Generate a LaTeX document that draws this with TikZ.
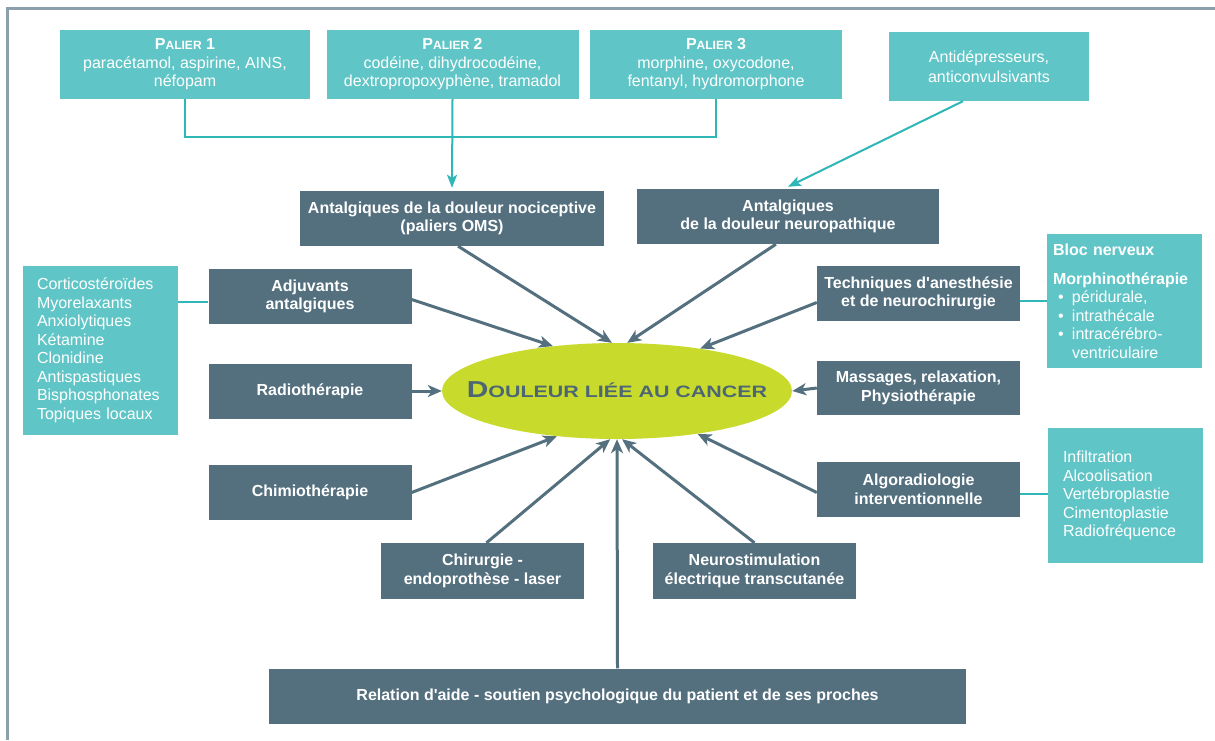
\documentclass[tikz,border=0pt]{standalone}
\usepackage{fontspec}
\setmainfont{Liberation Sans}[Ligatures=TeXOff]
\usetikzlibrary{shapes.geometric,arrows.meta,calc}
\definecolor{tealfill}{HTML}{60C5C6}
\definecolor{tealline}{HTML}{2FB6B6}
\definecolor{slate}{HTML}{54707F}
\definecolor{ellitext}{HTML}{4C6674}
\definecolor{limec}{HTML}{C8DB2C}
\definecolor{framec}{HTML}{8CA0AB}
\newcommand{\myfs}{\fontsize{16}{18.5}\selectfont}
\newcommand{\pal}[1]{\textbf{P{\fontsize{12}{18.5}\selectfont ALIER} #1}}
\begin{document}
\begin{tikzpicture}[x=1pt,y=-1pt,
  tbox/.style={fill=tealfill, text=white, inner sep=0pt, font=\myfs, align=center},
  dbox/.style={fill=slate, text=white, inner sep=0pt, font=\myfs\bfseries, align=center,
               minimum width=203pt, minimum height=55pt},
  darrow/.style={draw=slate, line width=3pt, -{Stealth[length=14pt,width=12pt,inset=4pt]}},
  tline/.style={draw=tealline, line width=2pt},
  tarrow/.style={tline, -{Stealth[length=13pt,width=10pt,inset=3pt]}}]
\useasboundingbox (0,0) rectangle (1215,740);
\fill[white] (0,0) rectangle (1215,740);
\draw[framec, line width=3pt] (7,740) -- (7,8.5) -- (1215,8.5);

% top teal boxes
\node[tbox, minimum width=250pt, minimum height=69pt] (p1) at (185,64.5)
  {\pal{1}\\paracétamol, aspirine, AINS,\\néfopam};
\node[tbox, minimum width=252pt, minimum height=69pt] (p2) at (452.5,64.5)
  {\pal{2}\\codéine, dihydrocodéine,\\dextropropoxyphène, tramadol};
\node[tbox, minimum width=252pt, minimum height=69pt] (p3) at (716,64.5)
  {\pal{3}\\morphine, oxycodone,\\fentanyl, hydromorphone};
\node[tbox, minimum width=200pt, minimum height=69pt] (anti) at (989,66.5)
  {\raisebox{1pt}{Antidépresseurs,}\\anticonvulsivants};

% dark boxes
\node[dbox, minimum width=304pt] (noci) at (452,218.5)
  {Antalgiques de la douleur nociceptive\\(paliers OMS)};
\node[dbox, minimum width=302pt] (neuro) at (788,216.5)
  {Antalgiques\\de la douleur neuropathique};
\node[dbox] (adj) at (310,296.5) {Adjuvants\\antalgiques};
\node[dbox] (radio) at (310,391) {Radiothérapie};
\node[dbox] (chimio) at (310,492.5) {Chimiothérapie};
\node[dbox] (tech) at (918.5,293.5) {Techniques d'anesthésie\\et de neurochirurgie};
\node[dbox, minimum height=54pt] (mass) at (918.5,388) {Massages, relaxation,\\Physiothérapie};
\node[dbox] (algo) at (918.5,489.5) {Algoradiologie\\interventionnelle};
\node[dbox, minimum height=56pt] (chir) at (482.5,571) {Chirurgie -\\endoprothèse - laser};
\node[dbox, minimum height=56pt] (nstim) at (754.5,571) {Neurostimulation\\électrique transcutanée};
\node[dbox, minimum width=697pt] (rel) at (617.5,696)
  {Relation d'aide - soutien psychologique du patient et de ses proches};

% side teal lists
\node[tbox, align=left, text width=127pt, inner xsep=14pt, minimum height=169pt] (list) at (100.5,350.5)
  {Corticostéroïdes\\Myorelaxants\\Anxiolytiques\\Kétamine\\Clonidine\\Antispastiques\\Bisphosphonates\\Topiques locaux};
\node[tbox, align=left, text width=143pt, inner xsep=6pt, minimum height=134pt] (bloc) at (1124.5,301)
  {\textbf{Bloc nerveux}\\[10.5pt]\textbf{Morphinothérapie}\\
   \makebox[19pt][l]{\hspace*{5pt}•}péridurale,\\
   \makebox[19pt][l]{\hspace*{5pt}•}intrathécale\\
   \makebox[19pt][l]{\hspace*{5pt}•}intracérébro-\\
   \hspace*{19pt}ventriculaire};
\node[tbox, align=left, text width=125pt, inner xsep=15pt, minimum height=135pt] (infil) at (1125.5,495.5)
  {Infiltration\\Alcoolisation\\Vertébroplastie\\Cimentoplastie\\Radiofréquence};

% central ellipse
\node[ellipse, fill=limec, inner sep=0pt, minimum width=350pt, minimum height=96pt,
      text=ellitext] (ell) at (617,391)
  {\smash{\makebox[0pt]{\raisebox{-6pt}{\scalebox{1.3}[1]{\bfseries{\fontsize{23}{23}\selectfont D}\fontsize{16.5}{16.5}\selectfont OULEUR LIÉE AU CANCER}}}}};

% teal connectors
\draw[tline] (p1.south) -- ++(0,37.5) -| (p3.south);
\draw[tarrow] (p2.south) -- ([yshift=3pt]noci.north);
\draw[tarrow] ($(anti.south west)!0.37!(anti.south east)$) -- ([yshift=2pt]neuro.north);
\draw[tline] ([yshift=-5pt]adj.west) -- ([yshift=-5pt]adj.west -| list.east);
\draw[tline] ([yshift=-7pt]tech.east) -- ([yshift=-7pt]tech.east -| bloc.west);
\draw[tline] ([yshift=-4pt]algo.east) -- ([yshift=-4pt]algo.east -| infil.west);

% dark arrows to the ellipse
\draw[darrow] ($(noci.south west)!0.52!(noci.south east)$) -- (ell.96);
\draw[darrow] ($(neuro.south west)!0.46!(neuro.south east)$) -- (ell.78);
\draw[darrow] ([yshift=-3pt]adj.east) -- (ell.145);
\draw[darrow] ([yshift=-9pt]tech.west) -- (ell.27);
\draw[darrow] (radio.east) -- (ell.180);
\draw[darrow] (mass.west) -- (ell.0);
\draw[darrow] (chimio.east) -- (ell.217);
\draw[darrow] ([xshift=4pt]chir.north) -- (ell.262);
\draw[darrow] (rel.north) -- (ell.270);
\draw[darrow] (nstim.north) -- (ell.276);
\draw[darrow] ([yshift=-3pt]algo.west) -- (ell.332);
\end{tikzpicture}
\end{document}
